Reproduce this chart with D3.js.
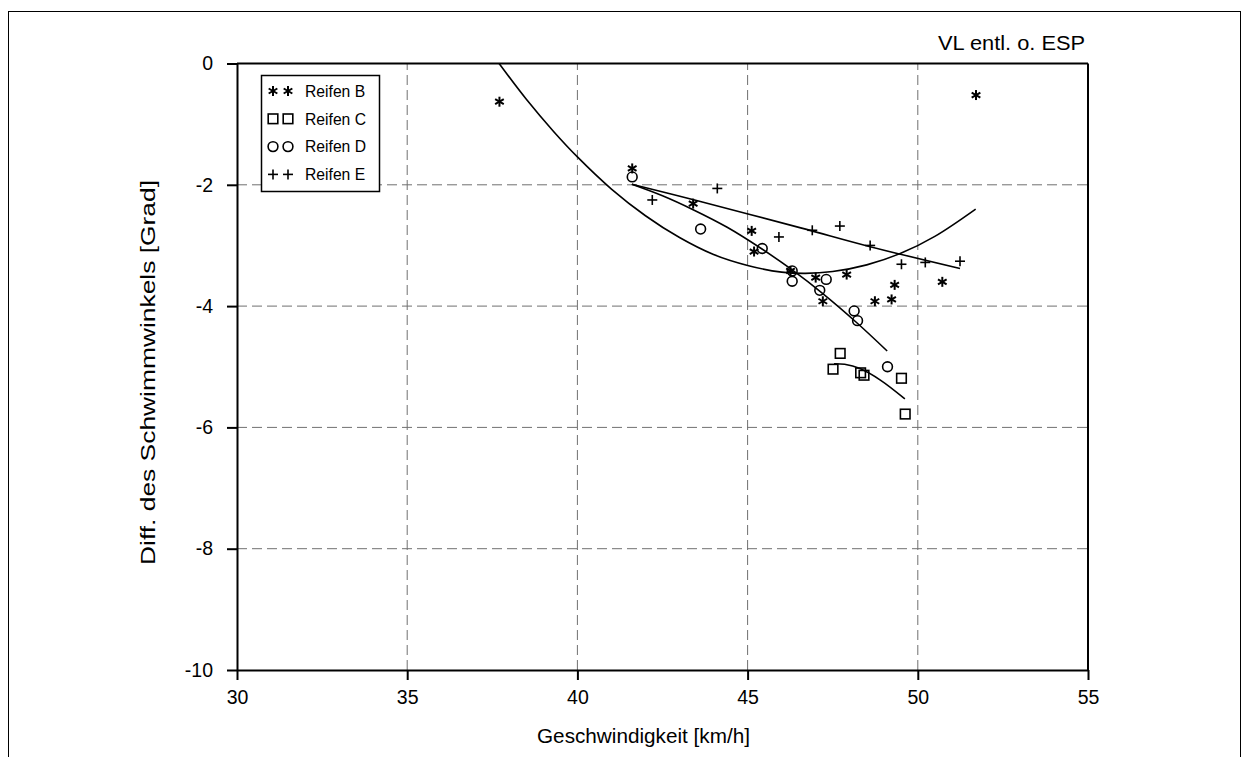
<!DOCTYPE html>
<html><head><meta charset="utf-8">
<script src="https://cdn.jsdelivr.net/npm/d3@7"></script>
<style>
body{margin:0;background:#fff;}
text{font-family:"Liberation Sans",Arial,sans-serif;fill:#000;}
</style></head>
<body><svg id="c" width="1245" height="757"></svg>
<script>
// ---- data ----
const xTicks = [30, 35, 40, 45, 50, 55];
const yTicks = [0, -2, -4, -6, -8, -10];
const seriesNames = ["Reifen B", "Reifen C", "Reifen D", "Reifen E"];
const reifenB = [[37.71,-0.63],[41.61,-1.73],[43.40,-2.31],[45.12,-2.76],[45.19,-3.10],[46.26,-3.42],[47.0,-3.53],[47.91,-3.48],[47.21,-3.92],[48.74,-3.92],[49.23,-3.89],[49.32,-3.65],[50.72,-3.60],[51.71,-0.52]];
const reifenC = [[47.72,-4.78],[47.51,-5.04],[48.32,-5.10],[48.42,-5.14],[49.52,-5.19],[49.63,-5.78]];
const reifenD = [[41.61,-1.87],[43.62,-2.73],[45.43,-3.05],[46.31,-3.42],[46.31,-3.59],[47.31,-3.56],[47.12,-3.74],[48.13,-4.08],[48.23,-4.24],[49.11,-5.00]];
const reifenE = [[42.20,-2.25],[44.11,-2.06],[45.92,-2.86],[46.90,-2.75],[47.71,-2.68],[48.60,-3.00],[49.52,-3.31],[50.22,-3.28],[51.24,-3.26]];
// fitted curves
const fitB = [[37.7,0],[38.5,-0.59],[39.3,-1.12],[40,-1.54],[41,-2.07],[42,-2.51],[43,-2.87],[44,-3.15],[45,-3.33],[46,-3.44],[46.7,-3.46],[47.5,-3.43],[48.5,-3.32],[49.5,-3.13],[50.5,-2.85],[51.7,-2.40]];
const fitC = [[47.54,-4.95],[47.85,-4.96],[48.3,-5.03],[48.9,-5.22],[49.62,-5.53]];
const fitD = [[41.6,-1.99],[42.5,-2.18],[43.4,-2.41],[44.4,-2.70],[45.4,-3.05],[46.3,-3.40],[47.2,-3.79],[48.2,-4.27],[49.1,-4.74]];
const fitE = [[41.6,-1.99],[43.5,-2.26],[46.56,-2.71],[48.6,-3.02],[51.24,-3.38]];
const titleText = "VL entl. o. ESP";
const xLabel = "Geschwindigkeit [km/h]";
const yLabel = "Diff. des Schwimmwinkels [Grad]";

// ---- layout ----
const svg = d3.select("#c");
const L = 237, R = 1088, T = 63.5, B = 670;
const x = d3.scaleLinear().domain([30,55]).range([L,R]);
const y = d3.scaleLinear().domain([-10,0]).range([B,T]);

// outer frame
svg.append("rect").attr("x",8.5).attr("y",11.5).attr("width",1232).attr("height",800)
  .attr("fill","none").attr("stroke","#000").attr("stroke-width",1);

// grid
const g = svg.append("g");
g.selectAll(".vg").data(xTicks.filter(d=>d>30&&d<55)).join("line")
  .attr("x1",d=>x(d)).attr("x2",d=>x(d)).attr("y1",B).attr("y2",T)
  .attr("stroke","#707070").attr("stroke-width",1).attr("stroke-dasharray","10,5");
g.selectAll(".hg").data(yTicks.filter(d=>d<0&&d>-10)).join("line")
  .attr("x1",L).attr("x2",R).attr("y1",d=>y(d)).attr("y2",d=>y(d))
  .attr("stroke","#707070").attr("stroke-width",1).attr("stroke-dasharray","10,5");

// frame of plot
svg.append("line").attr("x1",L).attr("x2",R).attr("y1",T).attr("y2",T).attr("stroke","#000").attr("stroke-width",2);
svg.append("line").attr("x1",R).attr("x2",R).attr("y1",T).attr("y2",B).attr("stroke","#000").attr("stroke-width",2);

// axes
const fmt = d => String(d);
const ax = svg.append("g").attr("transform",`translate(0,${B})`)
  .call(d3.axisBottom(x).tickValues(xTicks).tickFormat(fmt).tickSize(10).tickSizeOuter(0).tickPadding(10));
const ay = svg.append("g").attr("transform",`translate(${L},0)`)
  .call(d3.axisLeft(y).tickValues(yTicks).tickFormat(fmt).tickSize(10).tickSizeOuter(0).tickPadding(14));
[ax,ay].forEach(a=>{
  a.select(".domain").attr("stroke","#000").attr("stroke-width",2);
  a.selectAll(".tick line").attr("stroke","#000").attr("stroke-width",2);
  a.selectAll(".tick text").attr("font-size",19.5).attr("font-family","Liberation Sans, Arial, sans-serif").attr("fill","#000");
});

// labels
svg.append("text").attr("x",643.5).attr("y",743).attr("text-anchor","middle")
  .attr("font-size",20.5).attr("textLength",213).attr("lengthAdjust","spacingAndGlyphs").text(xLabel);
svg.append("text").attr("transform",`translate(155,372.5) rotate(-90)`).attr("text-anchor","middle")
  .attr("font-size",20.5).attr("textLength",385).attr("lengthAdjust","spacingAndGlyphs").text(yLabel);
svg.append("text").attr("x",1085).attr("y",50).attr("text-anchor","end")
  .attr("font-size",20.5).attr("textLength",147).attr("lengthAdjust","spacingAndGlyphs").text(titleText);

// fitted lines
const line = d3.line().x(d=>x(d[0])).y(d=>y(d[1])).curve(d3.curveCatmullRom);
const lg = svg.append("g").attr("fill","none").attr("stroke","#000").attr("stroke-width",1.6);
[fitB,fitC,fitD,fitE].forEach(f=>lg.append("path").attr("d",line(f)));

// markers
function drawMarker(sel, type){
  const s = 5;
  if(type==="B"){
    sel.append("line").attr("x1",0).attr("x2",0).attr("y1",-s).attr("y2",s);
    [60,-60].forEach(a=>{
      const r=a*Math.PI/180;
      sel.append("line").attr("x1",-s*Math.sin(r)).attr("y1",-s*Math.cos(r)).attr("x2",s*Math.sin(r)).attr("y2",s*Math.cos(r));
    });
  } else if(type==="C"){
    sel.append("rect").attr("x",-4.8).attr("y",-4.8).attr("width",9.6).attr("height",9.6);
  } else if(type==="D"){
    sel.append("circle").attr("r",4.9);
  } else {
    sel.append("line").attr("x1",-5).attr("x2",5).attr("y1",0).attr("y2",0);
    sel.append("line").attr("x1",0).attr("x2",0).attr("y1",-5).attr("y2",5);
  }
}
const types = ["B","C","D","E"];
const mg = svg.append("g").attr("fill","none").attr("stroke","#000");
[reifenB,reifenC,reifenD,reifenE].forEach((arr,i)=>{
  mg.selectAll(null).data(arr).join("g")
    .attr("transform",d=>`translate(${x(d[0])},${y(d[1])})`)
    .attr("stroke-width",types[i]==="B"?2:1.6)
    .each(function(){drawMarker(d3.select(this),types[i]);});
});

// legend
const leg = svg.append("g");
leg.append("rect").attr("x",261.5).attr("y",75.5).attr("width",118).attr("height",116)
  .attr("fill","#fff").attr("stroke","#000").attr("stroke-width",1.5);
seriesNames.forEach((n,i)=>{
  const yy = 91 + i*27.8;
  [273,288].forEach(xx=>{
    const m = leg.append("g").attr("transform",`translate(${xx},${yy})`).attr("fill","none").attr("stroke","#000")
      .attr("stroke-width",types[i]==="B"?2:1.6);
    drawMarker(m,types[i]);
  });
  leg.append("text").attr("x",305).attr("y",yy+5.8).attr("font-size",15.7).text(n);
});
</script></body></html>
